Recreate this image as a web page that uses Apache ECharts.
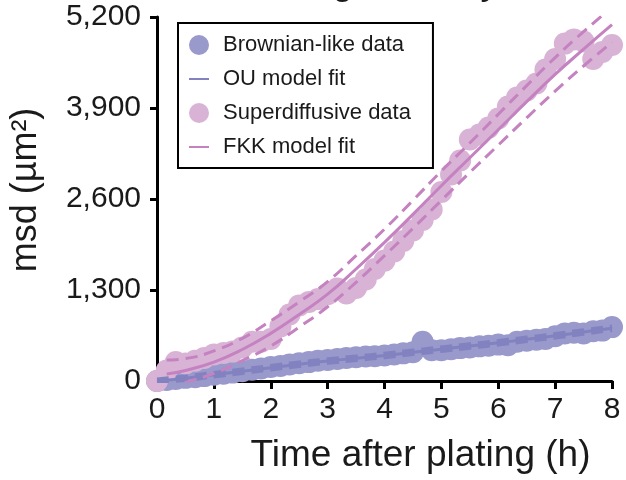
<!DOCTYPE html>
<html><head><meta charset="utf-8">
<script src="https://cdn.jsdelivr.net/npm/echarts@6/dist/echarts.min.js"></script>
<style>html,body{margin:0;padding:0;background:#fff}#c{width:626px;height:480px}</style>
</head><body><div id="c"></div>
<script>
// ---- data ----
const times = [0,0.17,0.33,0.5,0.67,0.83,1,1.17,1.33,1.5,1.67,1.83,2,2.17,2.33,2.5,2.67,2.83,3,3.17,3.33,3.5,3.67,3.83,4,4.17,4.33,4.5,4.67,4.83,5,5.17,5.33,5.5,5.67,5.83,6,6.17,6.33,6.5,6.67,6.83,7,7.17,7.33,7.5,7.67,7.83,8];
const brownian = [0,15,30,45,55,70,90,105,120,140,160,180,200,215,235,255,270,290,300,315,330,340,350,355,365,380,395,410,560,440,440,455,470,480,495,505,520,510,560,575,590,600,640,680,690,680,710,720,770];
const superdiff = [0,150,270,250,290,330,380,400,420,480,560,560,600,780,950,1080,1130,1170,1240,1320,1250,1330,1450,1600,1720,1850,2000,2150,2300,2450,2700,2950,3150,3450,3520,3620,3750,3920,4050,4150,4250,4450,4600,4820,4880,4850,4600,4700,4800];

const ouTimes = [0,0.5,1,1.5,2,2.5,3,3.5,4,4.5,5,5.5,6,6.5,7,7.5,8];
const ouFit   = [0,40,90,140,190,240,285,325,365,410,455,500,545,595,645,700,755];
const ouUpper = [20,65,115,165,215,265,310,350,390,435,480,525,570,620,670,725,780];
const ouLower = [-20,15,65,115,165,215,260,300,340,385,430,475,520,570,620,675,730];

const fkkTimes = [0.17,0.5,1,1.5,2,2.5,3,3.5,4,4.5,5,5.5,6,6.5,7,7.5,8];
const fkkFit   = [100,150,270,450,680,950,1240,1600,1980,2380,2790,3190,3590,3990,4380,4740,5090];
const fkkUpper = [300,320,430,610,860,1130,1420,1790,2170,2580,3000,3400,3810,4220,4620,4990,5340];
const fkkLower = [-100,-20,110,290,500,770,1060,1410,1790,2180,2580,2980,3370,3760,4140,4500,4840];

const xTicks = {min:0, max:8, interval:1};
const yTicks = {min:0, max:5200, interval:1300};
const names = ['Brownian-like data','OU model fit','Superdiffusive data','FKK model fit'];
const titleText = 'Single-cell dynamics';
const xTitle = 'Time after plating (h)';
const yTitle = 'msd (µm²)';

// ---- build ----
const pairs = (xs, ys) => xs.map((x, i) => [x, ys[i]]);
const FONT = '"Liberation Sans", Arial, Helvetica, sans-serif';
const blueDot = '#9999cc', blueLine = '#8282c0', pinkDot = '#d9b3d6', pinkLine = '#c482c0';

const chart = echarts.init(document.getElementById('c'), null, {renderer:'canvas'});
const dashLine = (data, color, w) => ({
  type:'line', data, smooth:true, symbol:'none', silent:true,
  lineStyle:{color, width:w, type:[12,7]}, itemStyle:{color}, clip:true
});
chart.setOption({
  animation:false,
  textStyle:{fontFamily:FONT},
  grid:{left:155, right:14, top:17, bottom:99, containLabel:false},
  graphic:[{type:'text', x:279, y:-16, silent:true,
    style:{text:titleText, font:'37px ' + FONT, fill:'#1a1a1a', verticalAlign:'middle', align:'left'}}],
  legend:{
    data:[
      {name:names[0]},
      {name:names[1], itemStyle:{opacity:0}},
      {name:names[2]},
      {name:names[3], itemStyle:{opacity:0}}
    ],
    orient:'vertical', left:178, top:23,
    itemWidth:20, itemHeight:20, itemGap:12,
    padding:[11,22,10,10],
    borderColor:'#000', borderWidth:2,
    textStyle:{fontSize:22, color:'#1a1a1a', fontFamily:FONT, padding:[0,0,0,9]},
    selectedMode:false
  },
  xAxis:{
    type:'value', min:xTicks.min, max:xTicks.max, interval:xTicks.interval,
    splitLine:{show:false},
    axisLine:{show:true, onZero:false, lineStyle:{color:'#000', width:3}},
    axisTick:{show:true, length:8, lineStyle:{color:'#000', width:3}},
    axisLabel:{fontSize:30, color:'#1a1a1a', margin:14, fontFamily:FONT},
    name:xTitle, nameLocation:'middle', nameGap:56,
    nameTextStyle:{fontSize:37, color:'#1a1a1a', fontFamily:FONT, padding:[0,0,0,72]}
  },
  yAxis:{
    type:'value', min:yTicks.min, max:yTicks.max, interval:yTicks.interval,
    splitLine:{show:false},
    axisLine:{show:true, onZero:false, lineStyle:{color:'#000', width:3}},
    axisTick:{show:true, length:7, lineStyle:{color:'#000', width:3}},
    axisLabel:{fontSize:30, color:'#1a1a1a', margin:16, fontFamily:FONT,
      formatter:v => v.toLocaleString('en-US')},
    name:yTitle, nameLocation:'middle', nameGap:113,
    nameTextStyle:{fontSize:36, color:'#1a1a1a', fontFamily:FONT, padding:[0,0,0,18]}
  },
  series:[
    {name:names[0], type:'scatter', data:pairs(times, brownian), symbolSize:22, itemStyle:{color:blueDot, opacity:1}},
    {name:names[1], type:'line', data:pairs(ouTimes, ouFit), smooth:true, symbol:'none',
      lineStyle:{color:blueLine, width:3}, itemStyle:{color:blueLine}},
    dashLine(pairs(ouTimes, ouUpper), blueLine, 4),
    dashLine(pairs(ouTimes, ouLower), blueLine, 4),
    {name:names[2], type:'scatter', data:pairs(times, superdiff), symbolSize:22, itemStyle:{color:pinkDot, opacity:1}},
    {name:names[3], type:'line', data:pairs(fkkTimes, fkkFit), smooth:true, symbol:'none',
      lineStyle:{color:pinkLine, width:3}, itemStyle:{color:pinkLine}},
    dashLine(pairs(fkkTimes, fkkUpper), pinkLine, 3),
    dashLine(pairs(fkkTimes, fkkLower), pinkLine, 3)
  ]
});
</script>
</body></html>
